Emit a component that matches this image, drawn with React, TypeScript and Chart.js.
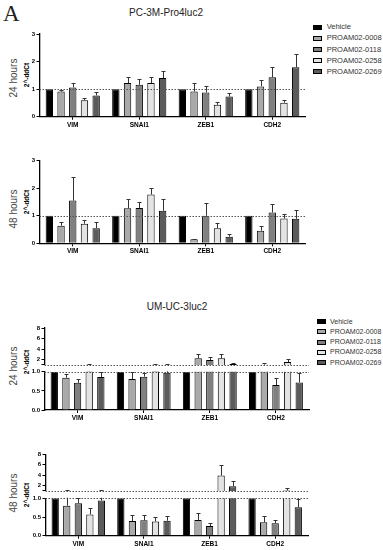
import React, { useEffect, useRef } from 'react';
import { Chart, registerables } from 'chart.js';

Chart.register(...registerables);

const FONT = '"Liberation Sans", Arial, sans-serif';

const categories = ['VIM', 'SNAI1', 'ZEB1', 'CDH2'];
const seriesNames = ['Vehicle', 'PROAM02-0008', 'PROAM02-0118', 'PROAM02-0258', 'PROAM02-0269'];
const seriesColors = ['#000000', '#a9a9a9', '#808080', '#e3e3e3', '#5b5b5b'];
const refValue = 1;

// rows = series (Vehicle, 0008, 0118, 0258, 0269), columns = categories
const pc24Mean = [
  [1, 1, 1, 1],
  [0.91, 1.22, 0.91, 1.1],
  [1.06, 1.16, 0.88, 1.43],
  [0.6, 1.22, 0.43, 0.51],
  [0.77, 1.4, 0.73, 1.79],
];
const pc24Err = [
  [1, 1, 1, 1],
  [0.98, 1.44, 1.22, 1.32],
  [1.22, 1.37, 1.13, 1.8],
  [0.69, 1.43, 0.55, 0.61],
  [0.91, 1.65, 0.85, 2.28],
];

const pc48Mean = [
  [1, 1, 1, 1],
  [0.64, 1.27, 0.15, 0.46],
  [1.55, 1.28, 1.0, 1.12],
  [0.71, 1.77, 0.55, 0.9],
  [0.55, 1.18, 0.24, 0.89],
];
const pc48Err = [
  [1, 1, 1, 1],
  [0.79, 1.6, 0.17, 0.63],
  [2.41, 1.49, 1.46, 1.44],
  [0.84, 2.01, 0.72, 1.08],
  [0.76, 1.6, 0.32, 1.22],
];

const um24Mean = [
  [1, 1, 1, 1],
  [0.84, 0.81, 2.24, 1.05],
  [0.71, 0.87, 1.93, 0.65],
  [1.01, 1.02, 2.24, 1.55],
  [0.86, 0.97, 1.15, 0.72],
];
const um24Err = [
  [1, 1, 1, 1],
  [0.93, 0.98, 3.0, 1.4],
  [0.8, 0.96, 2.5, 0.83],
  [1.12, 1.12, 3.1, 2.2],
  [0.98, 1.12, 1.45, 0.97],
];

const um48Mean = [
  [1, 1, 1, 1],
  [0.8, 0.39, 0.42, 0.36],
  [0.87, 0.41, 0.26, 0.33],
  [0.57, 0.38, 3.94, 1.08],
  [0.94, 0.4, 1.9, 0.76],
];
const um48Err = [
  [1, 1, 1, 1],
  [1.1, 0.55, 0.62, 0.53],
  [1.0, 0.55, 0.35, 0.42],
  [0.73, 0.49, 6.0, 1.5],
  [1.12, 0.53, 2.85, 0.99],
];

const pcTicks = [0, 1, 2, 3];
const umUpperTicks = [1, 2, 4, 6, 8];
const umLowerTicks = [0, 0.5, 1.0];

type Box = { left: number; top: number; width: number; height: number };
type Area = { left: number; top: number; right: number; bottom: number };

type PanelProps = {
  box: Box;
  area: Area;
  means: number[][];
  errs: number[][];
  yMin: number;
  yMax: number;
  yTicks: number[];
  tickLabel: (v: number) => string;
  showX: boolean;
  xHeight: number;
};

function BarPanel(p: PanelProps) {
  const ref = useRef<HTMLCanvasElement>(null);
  useEffect(() => {
    if (!ref.current) return;
    const padTop = p.area.top - p.box.top;
    const padRight = p.box.left + p.box.width - p.area.right;
    const padBottom = p.box.top + p.box.height - p.area.bottom - (p.showX ? p.xHeight : 0);
    const yWidth = p.area.left - p.box.left;

    const refLinePlugin = {
      id: 'refLine',
      afterDatasetsDraw(chart: any) {
        const { ctx, chartArea, scales } = chart;
        const y = Math.round(scales.y.getPixelForValue(refValue)) + 0.5;
        ctx.save();
        ctx.strokeStyle = '#555';
        ctx.lineWidth = 1;
        ctx.setLineDash([1.5, 1.5]);
        ctx.beginPath();
        ctx.moveTo(chartArea.left, y);
        ctx.lineTo(chartArea.right, y);
        ctx.stroke();
        ctx.restore();
      },
    };

    const errorPlugin = {
      id: 'errorBars',
      afterDatasetsDraw(chart: any) {
        const { ctx, chartArea, scales } = chart;
        ctx.save();
        ctx.beginPath();
        ctx.rect(chartArea.left, chartArea.top - 0.5, chartArea.right - chartArea.left, chartArea.bottom - chartArea.top + 0.5);
        ctx.clip();
        ctx.strokeStyle = '#333';
        ctx.lineWidth = 1;
        p.means.forEach((row, i) => {
          const meta = chart.getDatasetMeta(i);
          row.forEach((m, j) => {
            const e = p.errs[i][j];
            if (e <= m) return;
            const el = meta.data[j];
            const x = Math.round(el.x) + 0.5;
            const y0 = scales.y.getPixelForValue(m);
            const y1 = Math.round(scales.y.getPixelForValue(e)) + 0.5;
            ctx.beginPath();
            ctx.moveTo(x, y0);
            ctx.lineTo(x, y1);
            ctx.moveTo(x - 2, y1);
            ctx.lineTo(x + 2, y1);
            ctx.stroke();
          });
        });
        ctx.restore();
      },
    };

    const chart = new Chart(ref.current, {
      type: 'bar',
      data: {
        labels: categories,
        datasets: seriesNames.map((name, i) => ({
          label: name,
          data: p.means[i],
          backgroundColor: seriesColors[i],
          borderColor: '#000',
          borderWidth: 1,
          clip: 0,
          categoryPercentage: 0.88,
          barPercentage: 0.63,
        })),
      },
      options: {
        animation: false,
        responsive: false,
        maintainAspectRatio: false,
        layout: { padding: { left: 0, top: padTop, right: padRight, bottom: padBottom } },
        plugins: {
          legend: { display: false },
          tooltip: { enabled: false },
          title: { display: false },
        },
        scales: {
          x: {
            display: p.showX,
            grid: {
              offset: false,
              drawOnChartArea: false,
              drawTicks: true,
              tickLength: 3,
              color: '#000',
              lineWidth: 1,
            },
            border: { display: true, color: '#000', width: 1.3 },
            ticks: {
              font: { family: FONT, size: 6.5, weight: 'bold' },
              color: '#000',
              padding: 1.5,
              maxRotation: 0,
              autoSkip: false,
            },
            afterFit: (s: any) => {
              s.height = p.xHeight;
            },
          },
          y: {
            min: p.yMin,
            max: p.yMax,
            afterBuildTicks: (s: any) => {
              s.ticks = p.yTicks.map((v) => ({ value: v }));
            },
            ticks: {
              callback: (v: any) => p.tickLabel(Number(v)),
              font: { family: FONT, size: 6, weight: 'bold' },
              color: '#000',
              padding: 1.5,
              autoSkip: false,
            },
            grid: { drawOnChartArea: false, drawTicks: true, tickLength: 3, color: '#000', lineWidth: 1 },
            border: { display: true, color: '#000', width: 1.3 },
            afterFit: (s: any) => {
              s.width = yWidth;
            },
          },
        },
      } as any,
      plugins: [refLinePlugin, errorPlugin],
    });
    return () => chart.destroy();
  }, []);
  return (
    <canvas
      ref={ref}
      width={p.box.width}
      height={p.box.height}
      style={{ position: 'absolute', left: p.box.left, top: p.box.top, width: p.box.width, height: p.box.height }}
    />
  );
}

function Legend({ left, top, gap, boxW, boxH, textLeft, size }: { left: number; top: number; gap: number; boxW: number; boxH: number; textLeft: number; size: number }) {
  return (
    <>
      {seriesNames.map((n, i) => {
        const cy = top + i * gap;
        return (
          <React.Fragment key={n}>
            <div
              style={{
                position: 'absolute',
                left,
                top: cy - boxH / 2,
                width: boxW,
                height: boxH,
                boxSizing: 'border-box',
                border: '1px solid #000',
                background: seriesColors[i],
              }}
            />
            <div
              style={{
                position: 'absolute',
                left: textLeft,
                top: cy - 6,
                height: 12,
                lineHeight: '12px',
                fontSize: size,
                color: '#333',
                whiteSpace: 'nowrap',
                fontFamily: FONT,
              }}
            >
              {n}
            </div>
          </React.Fragment>
        );
      })}
    </>
  );
}

function VText({ x, y, text, size, bold, color }: { x: number; y: number; text: string; size: number; bold?: boolean; color: string }) {
  return (
    <div
      style={{
        position: 'absolute',
        left: x,
        top: y,
        transform: 'translate(-50%, -50%) rotate(-90deg)',
        whiteSpace: 'nowrap',
        fontSize: size,
        lineHeight: 1,
        fontWeight: bold ? 'bold' : 'normal',
        color,
        fontFamily: FONT,
      }}
    >
      {text}
    </div>
  );
}

function Title({ x, y, text }: { x: number; y: number; text: string }) {
  return (
    <div
      style={{
        position: 'absolute',
        left: x,
        top: y - 6,
        transform: 'translateX(-50%)',
        whiteSpace: 'nowrap',
        fontSize: 10,
        lineHeight: '12px',
        color: '#222',
        fontFamily: FONT,
      }}
    >
      {text}
    </div>
  );
}

const pcLabel = (v: number) => String(v);
const upperLabel = (v: number) => (v === 1 ? '' : String(v));
const lowerLabel = (v: number) => v.toFixed(1);

export default function App() {
  return (
    <div style={{ position: 'absolute', left: 0, top: 0, width: 383, height: 550, overflow: 'hidden', background: '#fff' }}>
      <div style={{ position: 'absolute', left: 3, top: 2, fontSize: 23, lineHeight: '23px', fontFamily: '"Liberation Serif", serif', color: '#222' }}>A</div>

      <Title x={166} y={13} text="PC-3M-Pro4luc2" />
      <Legend left={313} top={27.3} gap={11.1} boxW={8.5} boxH={5} textLeft={326.7} size={7.5} />
      <VText x={13.5} y={78} text="24 hours" size={10} color="#444" />
      <VText x={26.5} y={75} text="2^-ddCt" size={6.5} bold color="#000" />
      <BarPanel
        box={{ left: 0, top: 22, width: 312, height: 112 }}
        area={{ left: 39.5, top: 34, right: 305.5, bottom: 116.7 }}
        means={pc24Mean}
        errs={pc24Err}
        yMin={0}
        yMax={3}
        yTicks={pcTicks}
        tickLabel={pcLabel}
        showX={true}
        xHeight={16}
      />

      <VText x={13.5} y={209} text="48 hours" size={10} color="#444" />
      <VText x={26.5} y={202} text="2^-ddCt" size={6.5} bold color="#000" />
      <BarPanel
        box={{ left: 0, top: 148, width: 312, height: 112 }}
        area={{ left: 39.5, top: 160.7, right: 305.5, bottom: 243.3 }}
        means={pc48Mean}
        errs={pc48Err}
        yMin={0}
        yMax={3}
        yTicks={pcTicks}
        tickLabel={pcLabel}
        showX={true}
        xHeight={16}
      />

      <Title x={177} y={306.7} text="UM-UC-3luc2" />
      <Legend left={316.7} top={321.7} gap={10.2} boxW={9} boxH={5} textLeft={330} size={7} />
      <VText x={13.5} y={366} text="24 hours" size={10} color="#444" />
      <VText x={26.5} y={362} text="2^-ddCt" size={6.5} bold color="#000" />
      <BarPanel
        box={{ left: 0, top: 318, width: 315, height: 52 }}
        area={{ left: 44.5, top: 328, right: 309, bottom: 366 }}
        means={um24Mean}
        errs={um24Err}
        yMin={1}
        yMax={8}
        yTicks={umUpperTicks}
        tickLabel={upperLabel}
        showX={false}
        xHeight={0}
      />
      <BarPanel
        box={{ left: 0, top: 366, width: 315, height: 62 }}
        area={{ left: 44.5, top: 371.7, right: 309, bottom: 410 }}
        means={um24Mean}
        errs={um24Err}
        yMin={0}
        yMax={1}
        yTicks={umLowerTicks}
        tickLabel={lowerLabel}
        showX={true}
        xHeight={16}
      />

      <VText x={13.5} y={493} text="48 hours" size={10} color="#444" />
      <VText x={26.5} y={495} text="2^-ddCt" size={6.5} bold color="#000" />
      <BarPanel
        box={{ left: 0, top: 444, width: 315, height: 52 }}
        area={{ left: 45.5, top: 454.3, right: 308, bottom: 492 }}
        means={um48Mean}
        errs={um48Err}
        yMin={1}
        yMax={8}
        yTicks={umUpperTicks}
        tickLabel={upperLabel}
        showX={false}
        xHeight={0}
      />
      <BarPanel
        box={{ left: 0, top: 492, width: 315, height: 58 }}
        area={{ left: 45.5, top: 498.3, right: 308, bottom: 535.7 }}
        means={um48Mean}
        errs={um48Err}
        yMin={0}
        yMax={1}
        yTicks={umLowerTicks}
        tickLabel={lowerLabel}
        showX={true}
        xHeight={14}
      />
    </div>
  );
}
